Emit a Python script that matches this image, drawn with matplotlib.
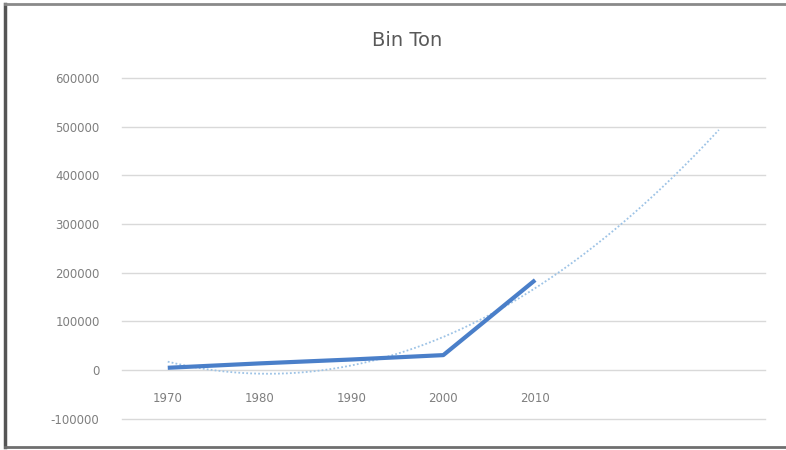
import numpy as np
import matplotlib
matplotlib.use("Agg")
import matplotlib.pyplot as plt
from matplotlib.lines import Line2D

# Data
years = ["1970", "1980", "1990", "2000", "2010"]
values = [5000, 14000, 22000, 31000, 185000]
forecast_periods = 2
title = "Bin Ton"
y_ticks = [-100000, 0, 100000, 200000, 300000, 400000, 500000, 600000]

fig = plt.figure(figsize=(7.86, 4.5), dpi=100)
ax = fig.add_axes([0.155, 0.069, 0.818, 0.758])

x = np.arange(len(years))
# polynomial (order 2) trendline, as in the source chart, extended forward
coef = np.polyfit(x, values, 2)
xt = np.linspace(0, len(years) - 1 + forecast_periods, 300)
ax.plot(xt, np.polyval(coef, xt), color="#9dc3e6", lw=1.3, ls=(0, (1, 1.2)), zorder=2)
ax.plot(x, values, color="#4a7fc9", lw=3.0, solid_capstyle="butt", zorder=3)

ax.set_xlim(-0.5, len(years) - 1 + forecast_periods + 0.5)
ax.set_ylim(y_ticks[0], y_ticks[-1])
ax.set_yticks(y_ticks)
ax.set_yticklabels([str(v) for v in y_ticks])
ax.set_xticks(x)
ax.set_xticklabels(years)
ax.spines["bottom"].set_position(("data", 0))
for s in ["top", "right", "left", "bottom"]:
    ax.spines[s].set_visible(False)
ax.grid(axis="y", color="#d9d9d9", lw=1.0)
for gl in ax.get_ygridlines():
    gl.set_clip_on(False)
ax.set_axisbelow(True)
ax.tick_params(axis="both", length=0, colors="#7f7f7f", labelsize=8.5)
ax.tick_params(axis="y", pad=16)
ax.tick_params(axis="x", pad=16)

fig.text(0.518, 1 - 40 / 450, title, ha="center", va="center", fontsize=14, color="#595959")

# outer frame
fig.add_artist(Line2D([0.006, 0.006], [0.006, 0.992], transform=fig.transFigure, color="#555555", lw=2.5))
fig.add_artist(Line2D([0.006, 1.0], [0.992, 0.992], transform=fig.transFigure, color="#8a8a8a", lw=2.0))
fig.add_artist(Line2D([0.006, 1.0], [0.006, 0.006], transform=fig.transFigure, color="#6f6f6f", lw=2.0))

fig.savefig("out.png", dpi=100)
